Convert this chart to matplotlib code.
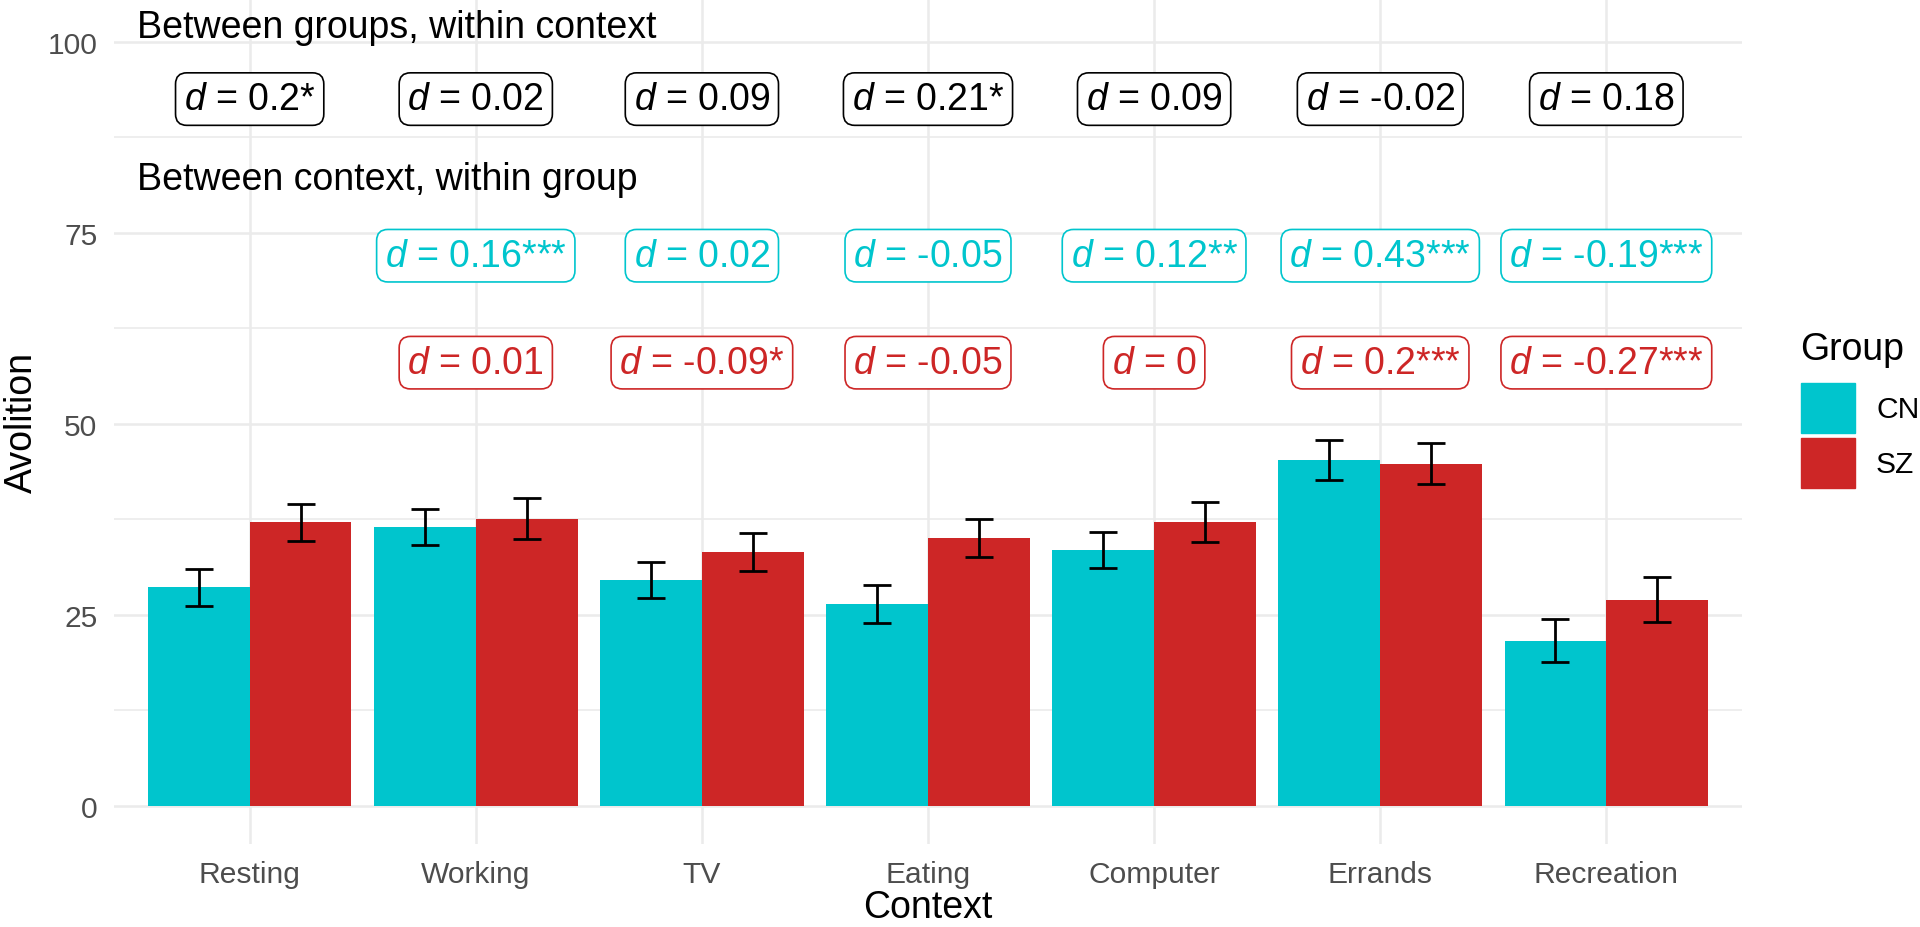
import matplotlib
matplotlib.use("Agg")
import matplotlib.pyplot as plt
import numpy as np
from matplotlib.patches import Patch

# Context categories and group means (with error bars)
contexts = ["Resting", "Working", "TV", "Eating", "Computer", "Errands", "Recreation"]
groups = ["CN", "SZ"]
cn_mean = [28.6, 36.5, 29.5, 26.4, 33.5, 45.3, 21.6]
cn_err = [2.4, 2.3, 2.35, 2.45, 2.4, 2.6, 2.8]
sz_mean = [37.1, 37.6, 33.2, 35.0, 37.1, 44.8, 27.0]
sz_err = [2.45, 2.7, 2.5, 2.5, 2.6, 2.7, 3.0]

# Effect sizes: between groups (every context) and between context (from Working on)
between_group_d = ["0.2*", "0.02", "0.09", "0.21*", "0.09", "-0.02", "0.18"]
cn_context_d = ["0.16***", "0.02", "-0.05", "0.12**", "0.43***", "-0.19***"]
sz_context_d = ["0.01", "-0.09*", "-0.05", "0", "0.2***", "-0.27***"]

CN_COLOR = "#00C5CD"
SZ_COLOR = "#CD2626"
GRID = "#EBEBEB"

plt.rcParams["font.family"] = ["Liberation Sans", "DejaVu Sans"]
plt.rcParams["mathtext.fontset"] = "custom"
plt.rcParams["mathtext.it"] = "Liberation Sans:italic"
plt.rcParams["mathtext.rm"] = "Liberation Sans"

fig = plt.figure(figsize=(19.2, 9.28), dpi=100)
ax = fig.add_axes([114 / 1920, 1 - 845 / 928, 1628 / 1920, 845 / 928])

x = np.arange(len(contexts))
width = 0.45

ax.bar(x - width / 2, cn_mean, width, color=CN_COLOR, zorder=2)
ax.bar(x + width / 2, sz_mean, width, color=SZ_COLOR, zorder=2)
err_kw = dict(fmt="none", ecolor="black", elinewidth=2.0, capsize=10, capthick=2.0, zorder=3)
ax.errorbar(x - width / 2, cn_mean, yerr=cn_err, **err_kw)
ax.errorbar(x + width / 2, sz_mean, yerr=sz_err, **err_kw)

# theme_minimal look
ax.set_xlim(-0.6, len(contexts) - 0.4)
ax.set_ylim(-5, 105.6)
ax.set_yticks([0, 25, 50, 75, 100])
ax.set_yticks([12.5, 37.5, 62.5, 87.5], minor=True)
ax.set_xticks(x)
ax.set_xticklabels(contexts)
ax.grid(True, which="major", color=GRID, lw=1.8, zorder=0)
ax.grid(True, which="minor", axis="y", color=GRID, lw=1.2, zorder=0)
ax.set_axisbelow(True)
for s in ax.spines.values():
    s.set_visible(False)
ax.tick_params(which="both", length=0, labelsize=21.6, labelcolor="#4D4D4D")
ax.tick_params(axis="x", pad=11.5)
ax.tick_params(axis="y", pad=12)
ax.set_xlabel("Context", fontsize=27, labelpad=1)
ax.set_ylabel("Avolition", fontsize=27, labelpad=5.5)

# Annotation headers and boxed effect sizes
ax.text(-0.5, 102, "Between groups, within context", fontsize=27, ha="left", va="center")
ax.text(-0.5, 82, "Between context, within group", fontsize=27, ha="left", va="center")


def boxed(xpos, ypos, label, color):
    ax.text(xpos, ypos, r"$d$ = " + label, fontsize=27, color=color, ha="center", va="center",
            bbox=dict(boxstyle="round,pad=0.22,rounding_size=0.3", fc="white", ec=color, lw=1.2),
            zorder=4)


for i, lab in enumerate(between_group_d):
    boxed(x[i], 92.5, lab, "black")
for i, lab in enumerate(cn_context_d):
    boxed(x[i + 1], 72, lab, CN_COLOR)
for i, lab in enumerate(sz_context_d):
    boxed(x[i + 1], 58, lab, SZ_COLOR)

# Legend: title drawn separately so the gap to the keys matches ggplot
fig.text(1800 / 1920, 1 - 350 / 928, "Group", fontsize=27, ha="left", va="center")
handles = [Patch(color=CN_COLOR), Patch(color=SZ_COLOR)]
leg = fig.legend(handles, groups, loc="upper left",
                 bbox_to_anchor=(1801 / 1920, 1 - 384 / 928), frameon=False,
                 fontsize=21.6, handlelength=1.8, handleheight=2.2,
                 labelspacing=0.15, handletextpad=0.7, borderpad=0, borderaxespad=0)

fig.savefig("out.png", dpi=100)
